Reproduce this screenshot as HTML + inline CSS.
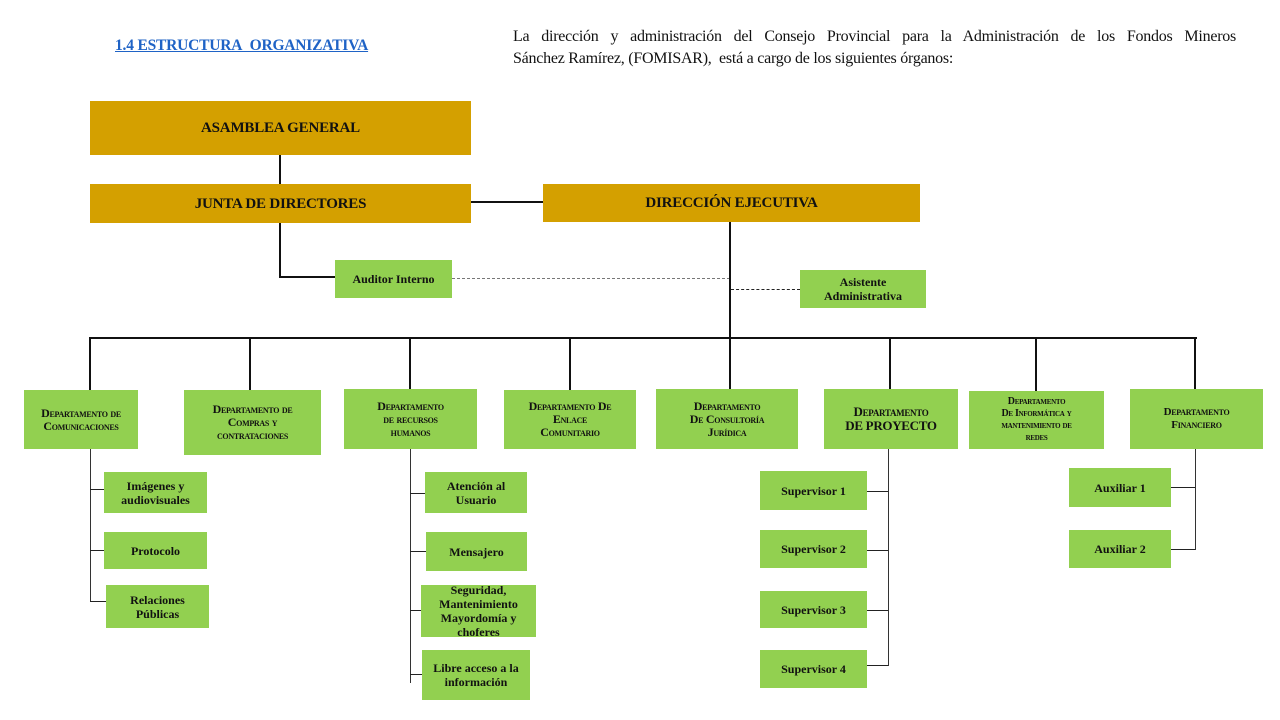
<!DOCTYPE html>
<html><head><meta charset="utf-8"><style>
body{margin:0;width:1280px;height:720px;background:#fff;position:relative;overflow:hidden;font-family:"Liberation Serif",serif;}
.a{position:absolute}
.b{position:absolute;display:flex;align-items:center;justify-content:center;text-align:center;font-weight:bold;color:#111;background:#92d050;font-size:12px;line-height:14px;}
.g{background:#d4a000;font-size:15px;letter-spacing:-0.2px}
.sc{font-variant:small-caps;font-size:12px;line-height:13px;letter-spacing:-0.3px}
.h{position:absolute;height:2px;background:#111}
.v{position:absolute;width:2px;background:#111}
.t{position:absolute;height:1px;background:#222}
.u{position:absolute;width:1px;background:#333}
</style></head><body>
<div class="a" style="left:115px;top:37px;color:#1f63c6;font-weight:bold;font-size:15.5px;text-decoration:underline;letter-spacing:-0.2px">1.4 ESTRUCTURA&nbsp; ORGANIZATIVA</div>
<div class="a" style="left:513px;top:26px;width:723px;font-size:16px;line-height:22px;color:#111;letter-spacing:-0.25px">
<div style="text-align:justify;text-align-last:justify;white-space:nowrap">La dirección y administración del Consejo Provincial para la Administración de los Fondos Mineros</div>
<div style="white-space:nowrap">Sánchez Ramírez, (FOMISAR),&nbsp; está a cargo de los siguientes órganos:</div></div>

<div class="b g" style="left:90px;top:101px;width:381px;height:54px">ASAMBLEA GENERAL</div>
<div class="b g" style="left:90px;top:184px;width:381px;height:39px">JUNTA DE DIRECTORES</div>
<div class="b g" style="left:543px;top:184px;width:377px;height:38px">DIRECCIÓN EJECUTIVA</div>
<div class="v" style="left:279px;top:155px;height:29px"></div>
<div class="h" style="left:471px;top:201px;width:72px"></div>
<div class="v" style="left:279px;top:223px;height:55px"></div>
<div class="h" style="left:279px;top:276px;width:56px"></div>
<div class="b" style="left:335px;top:260px;width:117px;height:38px">Auditor Interno</div>
<div class="a" style="left:452px;top:278px;width:278px;border-top:1px dashed #777"></div>
<div class="v" style="left:729px;top:222px;height:116px"></div>
<div class="a" style="left:731px;top:289px;width:69px;border-top:1px dashed #222"></div>
<div class="b" style="left:800px;top:270px;width:126px;height:38px">Asistente<br>Administrativa</div>
<div class="h" style="left:89px;top:337px;width:1108px"></div>
<div class="v" style="left:89px;top:337px;height:53px"></div>
<div class="v" style="left:249px;top:337px;height:53px"></div>
<div class="v" style="left:409px;top:337px;height:53px"></div>
<div class="v" style="left:569px;top:337px;height:53px"></div>
<div class="v" style="left:729px;top:337px;height:53px"></div>
<div class="v" style="left:889px;top:337px;height:53px"></div>
<div class="v" style="left:1035px;top:337px;height:54px"></div>
<div class="v" style="left:1194px;top:337px;height:53px"></div>

<div class="b sc" style="left:24px;top:390px;width:114px;height:59px">Departamento de<br>Comunicaciones</div>
<div class="b sc" style="left:184px;top:390px;width:137px;height:65px">Departamento de<br>Compras y<br>contrataciones</div>
<div class="b sc" style="left:344px;top:389px;width:133px;height:60px">Departamento<br>de recursos<br>humanos</div>
<div class="b sc" style="left:504px;top:390px;width:132px;height:59px">Departamento De<br>Enlace<br>Comunitario</div>
<div class="b sc" style="left:656px;top:389px;width:142px;height:60px">Departamento<br>De Consultoría<br>Jurídica</div>
<div class="b sc" style="left:824px;top:389px;width:134px;height:60px;font-size:13px;line-height:14px">Departamento<br>DE PROYECTO</div>
<div class="b sc" style="left:969px;top:391px;width:135px;height:58px;font-size:10px;line-height:12px">Departamento<br>De Informática y<br>mantenimiento de<br>redes</div>
<div class="b sc" style="left:1130px;top:389px;width:133px;height:60px;font-size:11px">Departamento<br>Financiero</div>

<div class="u" style="left:90px;top:449px;height:152px"></div>
<div class="t" style="left:90px;top:489px;width:14px"></div>
<div class="t" style="left:90px;top:550px;width:14px"></div>
<div class="t" style="left:90px;top:601px;width:16px"></div>
<div class="b" style="left:104px;top:472px;width:103px;height:41px">Imágenes y<br>audiovisuales</div>
<div class="b" style="left:104px;top:532px;width:103px;height:37px">Protocolo</div>
<div class="b" style="left:106px;top:585px;width:103px;height:43px">Relaciones<br>Públicas</div>

<div class="u" style="left:410px;top:449px;height:234px"></div>
<div class="t" style="left:410px;top:493px;width:15px"></div>
<div class="t" style="left:410px;top:551px;width:16px"></div>
<div class="t" style="left:410px;top:610px;width:11px"></div>
<div class="t" style="left:410px;top:674px;width:12px"></div>
<div class="b" style="left:425px;top:472px;width:102px;height:41px">Atención al<br>Usuario</div>
<div class="b" style="left:426px;top:532px;width:101px;height:39px">Mensajero</div>
<div class="b" style="left:421px;top:585px;width:115px;height:52px;line-height:14px">Seguridad,<br>Mantenimiento<br>Mayordomía y<br>choferes</div>
<div class="b" style="left:422px;top:650px;width:108px;height:50px">Libre acceso a la<br>información</div>

<div class="u" style="left:888px;top:449px;height:217px"></div>
<div class="t" style="left:867px;top:491px;width:21px"></div>
<div class="t" style="left:867px;top:550px;width:21px"></div>
<div class="t" style="left:867px;top:610px;width:21px"></div>
<div class="t" style="left:867px;top:665px;width:21px"></div>
<div class="b" style="left:760px;top:471px;width:107px;height:39px">Supervisor 1</div>
<div class="b" style="left:760px;top:530px;width:107px;height:38px">Supervisor 2</div>
<div class="b" style="left:760px;top:591px;width:107px;height:37px">Supervisor 3</div>
<div class="b" style="left:760px;top:650px;width:107px;height:38px">Supervisor 4</div>

<div class="u" style="left:1195px;top:449px;height:101px"></div>
<div class="t" style="left:1171px;top:487px;width:24px"></div>
<div class="t" style="left:1171px;top:549px;width:24px"></div>
<div class="b" style="left:1069px;top:468px;width:102px;height:39px">Auxiliar 1</div>
<div class="b" style="left:1069px;top:530px;width:102px;height:38px">Auxiliar 2</div>
</body></html>
